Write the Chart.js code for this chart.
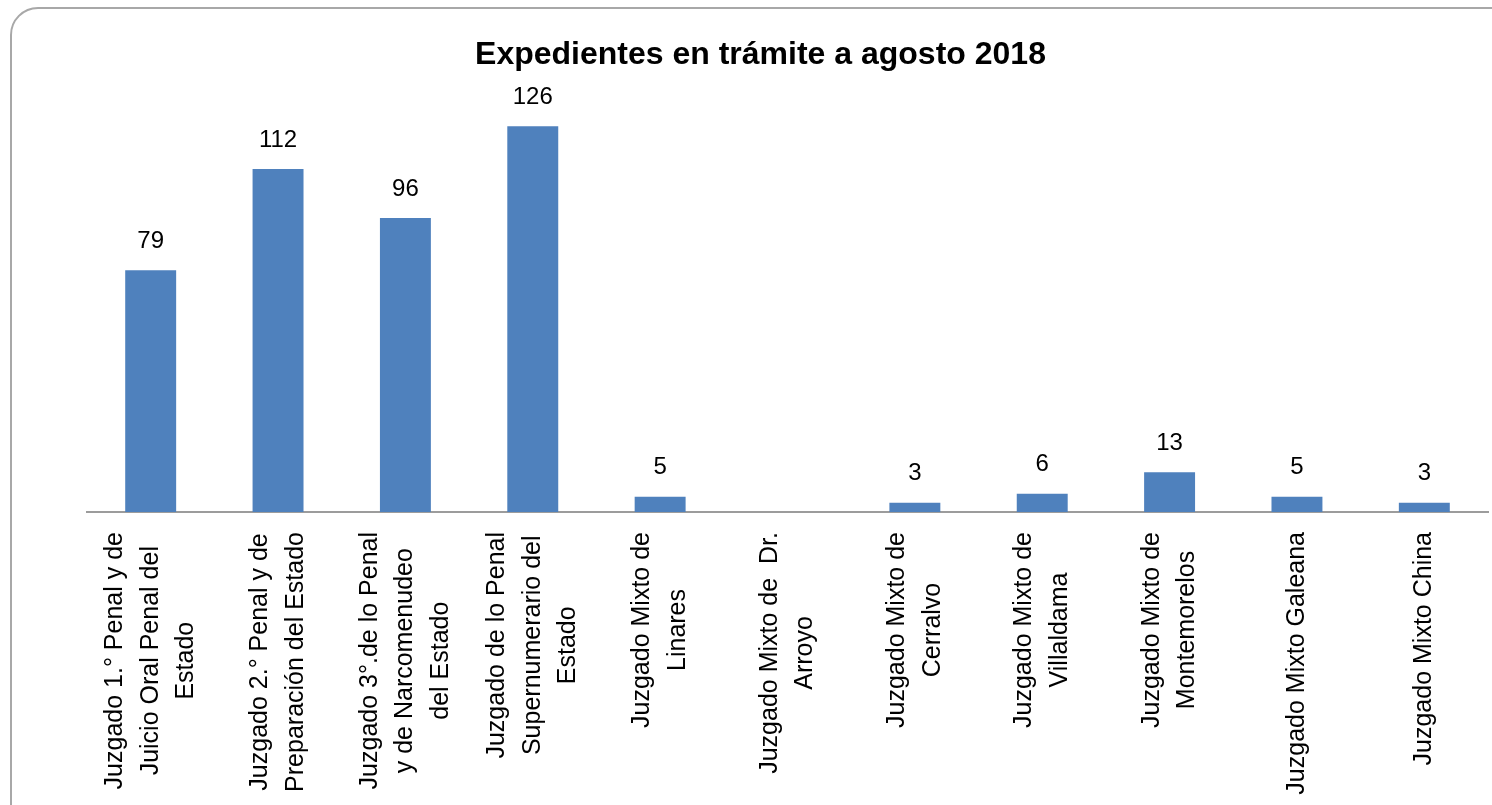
<!DOCTYPE html>
<html>
<head>
<meta charset="utf-8">
<script src="https://cdn.jsdelivr.net/npm/chart.js@4"></script>
<style>
  html, body { margin: 0; padding: 0; background: #fff; overflow: hidden; }
  #wrap { position: relative; width: 1492px; height: 805px; overflow: hidden; }
  #frame { position: absolute; left: 10px; top: 7px; width: 1520px; height: 860px;
           border: 2px solid #a8a8a8; border-radius: 28px; box-sizing: border-box; }
  canvas { position: absolute; left: 0; top: 0; }
</style>
</head>
<body>
<div id="wrap">
  <div id="frame"></div>
  <canvas id="c" width="1492" height="805"></canvas>
</div>
<script>
const titleText = 'Expedientes en trámite a agosto 2018';
const categories = [
  ['Juzgado 1.° Penal y de', 'Juicio Oral Penal del', 'Estado'],
  ['Juzgado 2.° Penal y de', 'Preparación del Estado'],
  ['Juzgado 3°.de lo Penal', 'y de Narcomenudeo', 'del Estado'],
  ['Juzgado de lo Penal', 'Supernumerario del', 'Estado'],
  ['Juzgado Mixto de', 'Linares'],
  ['Juzgado Mixto de  Dr.', 'Arroyo'],
  ['Juzgado Mixto de', 'Cerralvo'],
  ['Juzgado Mixto de', 'Villaldama'],
  ['Juzgado Mixto de', 'Montemorelos'],
  ['Juzgado Mixto Galeana'],
  ['Juzgado Mixto China']
];
const expedientes = [79, 112, 96, 126, 5, null, 3, 6, 13, 5, 3];

const FONT = '"Liberation Sans", Arial, sans-serif';

const valueLabels = {
  id: 'valueLabels',
  afterDatasetsDraw(chart) {
    const ctx = chart.ctx;
    const meta = chart.getDatasetMeta(0);
    ctx.save();
    ctx.font = '24px ' + FONT;
    ctx.fillStyle = '#000';
    ctx.textAlign = 'center';
    ctx.textBaseline = 'middle';
    meta.data.forEach((el, i) => {
      const v = chart.data.datasets[0].data[i];
      if (v === null || v === undefined) return;
      ctx.fillText(String(v), el.x, el.y - 29);
    });
    ctx.restore();
  }
};

const categoryLabels = {
  id: 'categoryLabels',
  afterDraw(chart) {
    const ctx = chart.ctx;
    const xs = chart.scales.x;
    const lineH = 35.5;
    const topY = xs.top + 20;
    ctx.save();
    ctx.font = '25px ' + FONT;
    ctx.fillStyle = '#000';
    ctx.textAlign = 'center';
    ctx.textBaseline = 'middle';
    chart.data.labels.forEach((lines, i) => {
      const x = xs.getPixelForTick(i);
      const arr = Array.isArray(lines) ? lines : [lines];
      const w = Math.max(...arr.map(s => ctx.measureText(s).width));
      ctx.save();
      ctx.translate(x, topY);
      ctx.rotate(-Math.PI / 2);
      arr.forEach((s, j) => {
        ctx.fillText(s, -w / 2, (j - (arr.length - 1) / 2) * lineH);
      });
      ctx.restore();
    });
    ctx.restore();
  }
};

new Chart(document.getElementById('c'), {
  type: 'bar',
  data: {
    labels: categories,
    datasets: [{
      data: expedientes,
      backgroundColor: '#4F81BD',
      borderWidth: 0,
      barPercentage: 0.4,
      categoryPercentage: 1.0
    }]
  },
  options: {
    responsive: false,
    animation: false,
    devicePixelRatio: 1,
    layout: { padding: { left: 33, right: 4, top: 8, bottom: 285 } },
    plugins: {
      legend: { display: false },
      tooltip: { enabled: false },
      title: {
        display: true,
        text: titleText,
        color: '#000',
        font: { family: FONT, size: 32, weight: 'bold', lineHeight: 1.2 },
        padding: { top: 28, bottom: 9 }
      }
    },
    scales: {
      x: {
        grid: { display: false },
        border: { display: true, color: '#9c9c9c', width: 2 },
        ticks: { display: false }
      },
      y: {
        min: 0, max: 140,
        grid: { display: false },
        border: { display: false },
        ticks: { display: false },
        afterFit(scale) { scale.width = 54; }
      }
    }
  },
  plugins: [valueLabels, categoryLabels]
});
</script>
</body>
</html>
